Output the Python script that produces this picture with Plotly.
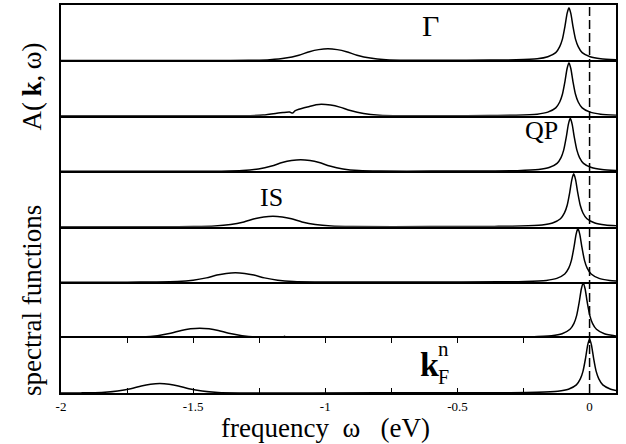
import plotly.graph_objects as go
from plotly.subplots import make_subplots

# ---- data (omega in eV, A normalised to panel height) ----
omega_1 = [-2.0, -1.4, -1.29, -1.21, -1.15, -1.10, -1.06, -1.025, -0.99, -0.955, -0.92, -0.88, -0.83, -0.77, -0.69, -0.55,
           -0.378, -0.278, -0.198, -0.158, -0.128, -0.113, -0.103, -0.093, -0.085, -0.078, -0.071, -0.063, -0.053, -0.043,
           -0.028, 0.002, 0.042, 0.1]
A_1 = [0.0, 0.0, 0.002, 0.013, 0.042, 0.095, 0.158, 0.195, 0.21, 0.195, 0.158, 0.095, 0.042, 0.013, 0.003, 0.003,
       0.006, 0.011, 0.03, 0.067, 0.14, 0.25, 0.38, 0.62, 0.85, 0.95, 0.85, 0.62, 0.38, 0.25, 0.14, 0.067, 0.03, 0.013]

omega_2 = [-2.0, -1.4, -1.315, -1.235, -1.16, -1.135, -1.124, -1.115, -1.1, -1.06, -1.035, -1.015, -0.98, -0.945, -0.905,
           -0.855, -0.795, -0.715, -0.55, -0.378, -0.278, -0.198, -0.158, -0.128, -0.113, -0.103, -0.093, -0.085, -0.078,
           -0.071, -0.063, -0.053, -0.043, -0.028, 0.002, 0.042, 0.1]
A_2 = [0.0, 0.0, 0.002, 0.014, 0.06, 0.068, 0.05, 0.09, 0.12, 0.17, 0.2, 0.21, 0.195, 0.158, 0.095, 0.042, 0.013, 0.003,
       0.003, 0.006, 0.012, 0.031, 0.067, 0.144, 0.25, 0.384, 0.624, 0.854, 0.96, 0.854, 0.624, 0.384, 0.25, 0.144,
       0.067, 0.031, 0.013]

omega_3 = [-2.0, -1.5, -1.393, -1.313, -1.253, -1.203, -1.163, -1.128, -1.093, -1.058, -1.023, -0.983, -0.933, -0.873,
           -0.793, -0.6, -0.373, -0.273, -0.193, -0.153, -0.123, -0.108, -0.098, -0.088, -0.080, -0.073, -0.066, -0.058,
           -0.048, -0.038, -0.023, 0.007, 0.047, 0.1]
A_3 = [0.0, 0.0, 0.002, 0.013, 0.042, 0.095, 0.158, 0.195, 0.21, 0.195, 0.158, 0.095, 0.042, 0.013, 0.003, 0.003,
       0.006, 0.011, 0.031, 0.067, 0.143, 0.248, 0.382, 0.621, 0.85, 0.955, 0.85, 0.621, 0.382, 0.248, 0.143, 0.067,
       0.031, 0.013]

omega_4 = [-2.0, -1.6, -1.498, -1.418, -1.358, -1.308, -1.268, -1.233, -1.198, -1.163, -1.128, -1.088, -1.038, -0.978,
           -0.898, -0.6, -0.36, -0.26, -0.18, -0.14, -0.11, -0.095, -0.085, -0.075, -0.067, -0.06, -0.053, -0.045, -0.035,
           -0.025, -0.01, 0.02, 0.06, 0.1]
A_4 = [0.0, 0.0, 0.002, 0.011, 0.038, 0.086, 0.143, 0.177, 0.19, 0.177, 0.143, 0.086, 0.038, 0.011, 0.002, 0.003,
       0.006, 0.011, 0.031, 0.067, 0.143, 0.248, 0.382, 0.621, 0.85, 0.955, 0.85, 0.621, 0.382, 0.248, 0.143, 0.067,
       0.031, 0.016]

omega_5 = [-2.0, -1.75, -1.64, -1.56, -1.50, -1.45, -1.41, -1.375, -1.34, -1.305, -1.27, -1.23, -1.18, -1.12, -1.04,
           -0.6, -0.344, -0.244, -0.164, -0.124, -0.094, -0.079, -0.069, -0.059, -0.051, -0.044, -0.037, -0.029, -0.019,
           -0.009, 0.006, 0.036, 0.076, 0.1]
A_5 = [0.0, 0.0, 0.002, 0.010, 0.034, 0.077, 0.128, 0.158, 0.17, 0.158, 0.128, 0.077, 0.034, 0.010, 0.002, 0.003,
       0.006, 0.012, 0.031, 0.068, 0.146, 0.252, 0.388, 0.63, 0.863, 0.97, 0.863, 0.63, 0.388, 0.252, 0.146, 0.068,
       0.031, 0.02]

omega_6 = [-2.0, -1.85, -1.775, -1.695, -1.635, -1.585, -1.545, -1.51, -1.475, -1.44, -1.405, -1.365, -1.315, -1.255,
           -1.175, -1.162, -1.154, -1.146, -0.6, -0.324, -0.224, -0.144, -0.104, -0.074, -0.059, -0.049, -0.039, -0.031,
           -0.024, -0.017, -0.009, 0.001, 0.011, 0.026, 0.056, 0.1]
A_6 = [0.0, 0.0, 0.002, 0.010, 0.034, 0.077, 0.128, 0.158, 0.17, 0.158, 0.128, 0.077, 0.034, 0.010, 0.003, 0.003,
       0.022, 0.003, 0.003, 0.006, 0.012, 0.032, 0.069, 0.149, 0.257, 0.396, 0.644, 0.881, 0.99, 0.881, 0.644, 0.396,
       0.257, 0.149, 0.069, 0.03]

omega_7 = [-2.0, -1.926, -1.846, -1.786, -1.736, -1.696, -1.661, -1.626, -1.591, -1.556, -1.516, -1.466, -1.406, -1.326,
           -0.8, -0.3, -0.2, -0.12, -0.08, -0.05, -0.035, -0.025, -0.015, -0.007, 0.0, 0.007, 0.015, 0.025, 0.035, 0.05,
           0.08, 0.1]
A_7 = [0.0, 0.002, 0.010, 0.034, 0.077, 0.128, 0.158, 0.17, 0.158, 0.128, 0.077, 0.034, 0.010, 0.002, 0.003, 0.006,
       0.012, 0.031, 0.068, 0.146, 0.254, 0.39, 0.634, 0.868, 0.975, 0.868, 0.634, 0.39, 0.254, 0.146, 0.068, 0.045]

panels_omega = [omega_1, omega_2, omega_3, omega_4, omega_5, omega_6, omega_7]
panels_A = [A_1, A_2, A_3, A_4, A_5, A_6, A_7]

tick_values = [-2, -1.5, -1, -0.5, 0]
tick_labels = ["-2", "-1.5", "-1", "-0.5", "0"]
x_range = [-2, 0.1]

SERIF = "Liberation Serif"
N = len(panels_omega)
LW = 2.1

fig = make_subplots(rows=N, cols=1, shared_xaxes=True, vertical_spacing=0)

for i in range(N):
    fig.add_trace(go.Scatter(x=panels_omega[i], y=panels_A[i], mode="lines",
                             line=dict(color="black", width=1.5, shape="spline", smoothing=0.7),
                             showlegend=False, hoverinfo="skip"), row=i + 1, col=1)

# each panel draws only its bottom edge; the top panel also draws the outer top edge
fig.update_xaxes(range=x_range, showline=True, linewidth=LW, linecolor="black", mirror=False,
                 showgrid=False, zeroline=False, ticks="", showticklabels=False)
fig.update_xaxes(row=1, col=1, mirror=True)
fig.update_xaxes(row=N - 1, col=1, showline=False)
fig.update_yaxes(range=[0, 1], showline=True, linewidth=LW, linecolor="black", mirror=True,
                 showgrid=False, zeroline=False, ticks="", showticklabels=False)

fig.update_xaxes(row=N, col=1, showticklabels=True, ticks="inside", ticklen=5, tickwidth=1.2,
                 tickcolor="black", mirror="ticks", tickmode="array", tickvals=tick_values,
                 ticktext=tick_labels, tickfont=dict(family=SERIF, size=13, color="black"),
                 minor=dict(dtick=0.25, tick0=0, ticks="inside", ticklen=5, tickwidth=1.2,
                            tickcolor="black", showgrid=False))

# dashed line at the Fermi level
fig.add_shape(type="line", xref="x%d" % N, yref="paper", x0=0, x1=0, y0=0, y1=1,
              line=dict(color="black", width=1.5, dash="9px,4px"))

L, R, T, B = 61, 616, 3, 393


def px(x):
    return (x - L) / (R - L)


def py(y):
    return (B - y) / (B - T)


def note(text, x, y, size, **kw):
    fig.add_annotation(text=text, x=px(x), y=py(y), xref="paper", yref="paper", showarrow=False,
                       xanchor="center", yanchor="middle",
                       font=dict(family=SERIF, size=size, color="black"), **kw)


note("Γ", 430.7, 23.5, 30)
note("QP", 541, 129, 26)
note("IS", 271.7, 196.5, 26)
note("<b>k</b>", 429, 364, 34)
note("n", 444, 349, 21)
note("F", 444, 377, 20)

nb = "\u00a0"
note("frequency" + nb * 2 + "ω" + nb * 3 + "(eV)", 325.5, 428, 27, borderpad=0)
note("spectral functions" + nb * 11 + "A(\u2009<b>k</b>,\u2009ω)", 32.5, 218.5, 27, textangle=-90)

fig.update_layout(width=626, height=444, margin=dict(l=L, r=626 - R, t=T, b=444 - B),
                  paper_bgcolor="white", plot_bgcolor="white")

fig.write_html("out.html", config={"displayModeBar": False},
               post_script="document.body.style.margin='0px';")
